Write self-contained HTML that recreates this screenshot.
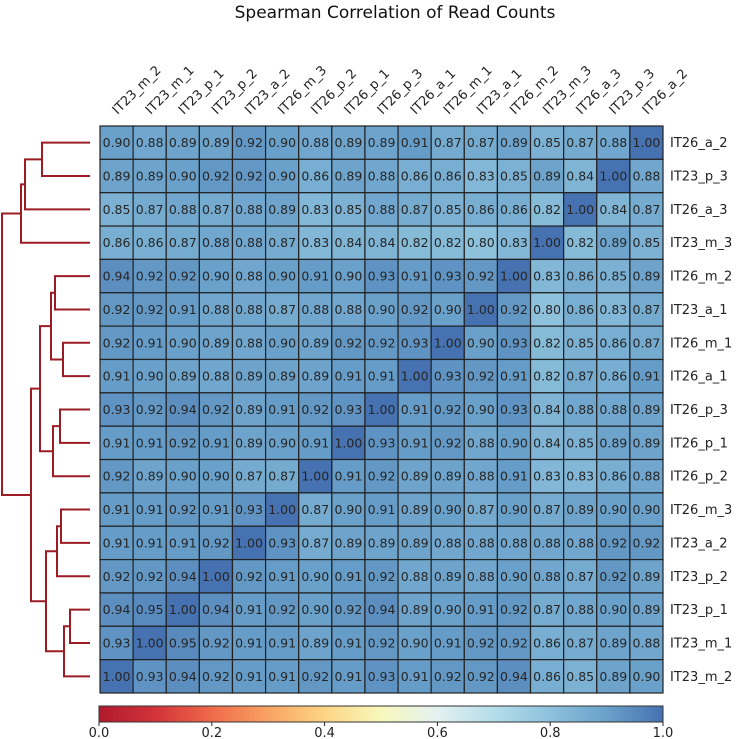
<!DOCTYPE html>
<html><head><meta charset="utf-8"><style>body{margin:0;background:#fff}svg{display:block;font-family:"DejaVu Sans","Liberation Sans",sans-serif}</style></head>
<body>
<svg id="c" width="737" height="739"></svg>
<script>
const rowLabels=["IT26_a_2","IT23_p_3","IT26_a_3","IT23_m_3","IT26_m_2","IT23_a_1","IT26_m_1","IT26_a_1","IT26_p_3","IT26_p_1","IT26_p_2","IT26_m_3","IT23_a_2","IT23_p_2","IT23_p_1","IT23_m_1","IT23_m_2"];
const colLabels=["IT23_m_2","IT23_m_1","IT23_p_1","IT23_p_2","IT23_a_2","IT26_m_3","IT26_p_2","IT26_p_1","IT26_p_3","IT26_a_1","IT26_m_1","IT23_a_1","IT26_m_2","IT23_m_3","IT26_a_3","IT23_p_3","IT26_a_2"];
const matrix=[
[.90,.88,.89,.89,.92,.90,.88,.89,.89,.91,.87,.87,.89,.85,.87,.88,1.00],
[.89,.89,.90,.92,.92,.90,.86,.89,.88,.86,.86,.83,.85,.89,.84,1.00,.88],
[.85,.87,.88,.87,.88,.89,.83,.85,.88,.87,.85,.86,.86,.82,1.00,.84,.87],
[.86,.86,.87,.88,.88,.87,.83,.84,.84,.82,.82,.80,.83,1.00,.82,.89,.85],
[.94,.92,.92,.90,.88,.90,.91,.90,.93,.91,.93,.92,1.00,.83,.86,.85,.89],
[.92,.92,.91,.88,.88,.87,.88,.88,.90,.92,.90,1.00,.92,.80,.86,.83,.87],
[.92,.91,.90,.89,.88,.90,.89,.92,.92,.93,1.00,.90,.93,.82,.85,.86,.87],
[.91,.90,.89,.88,.89,.89,.89,.91,.91,1.00,.93,.92,.91,.82,.87,.86,.91],
[.93,.92,.94,.92,.89,.91,.92,.93,1.00,.91,.92,.90,.93,.84,.88,.88,.89],
[.91,.91,.92,.91,.89,.90,.91,1.00,.93,.91,.92,.88,.90,.84,.85,.89,.89],
[.92,.89,.90,.90,.87,.87,1.00,.91,.92,.89,.89,.88,.91,.83,.83,.86,.88],
[.91,.91,.92,.91,.93,1.00,.87,.90,.91,.89,.90,.87,.90,.87,.89,.90,.90],
[.91,.91,.91,.92,1.00,.93,.87,.89,.89,.89,.88,.88,.88,.88,.88,.92,.92],
[.92,.92,.94,1.00,.92,.91,.90,.91,.92,.88,.89,.88,.90,.88,.87,.92,.89],
[.94,.95,1.00,.94,.91,.92,.90,.92,.94,.89,.90,.91,.92,.87,.88,.90,.89],
[.93,1.00,.95,.92,.91,.91,.89,.91,.92,.90,.91,.92,.92,.86,.87,.89,.88],
[1.00,.93,.94,.92,.91,.91,.92,.91,.93,.91,.92,.92,.94,.86,.85,.89,.90]];
const cbTicks=[0,0.2,0.4,0.6,0.8,1.0];
const merges=[[0,1,42],["n0",2,25],["n1",3,21],[4,5,55],[6,7,63],["n3","n4",51],[8,9,60],["n6",10,53],["n5","n7",40],[11,12,61],["n9",13,57],[14,15,70],["n11",16,64],["n10","n12",46],["n8","n13",31],["n2","n14",2]];
const stops=[[0,"#b01a2e"],[.1,"#d3333a"],[.2,"#ef6a4a"],[.3,"#f9a363"],[.4,"#fdd584"],[.5,"#f8f8bc"],[.6,"#e3f1f1"],[.7,"#b4dde9"],[.8,"#8dc1dc"],[.9,"#6aa1ca"],[1,"#4672b1"]];
function hx(h){return [1,3,5].map(i=>parseInt(h.substr(i,2),16));}
function cmap(v){v=Math.max(0,Math.min(1,v));for(let i=1;i<stops.length;i++){if(v<=stops[i][0]){const a=hx(stops[i-1][1]),b=hx(stops[i][1]),t=(v-stops[i-1][0])/(stops[i][0]-stops[i-1][0]);return "rgb("+a.map((x,k)=>Math.round(x+(b[k]-x)*t)).join(",")+")";}}return stops[stops.length-1][1];}
const svg=document.getElementById('c');const NS="http://www.w3.org/2000/svg";
function el(t,a,txt){const e=document.createElementNS(NS,t);for(const k in a)e.setAttribute(k,a[k]);if(txt!=null)e.textContent=txt;svg.appendChild(e);return e;}
const X0=100,Y0=126,W=563,H=567,n=rowLabels.length,cw=W/colLabels.length,ch=H/n;
const xc=i=>X0+(i+0.5)*cw, yc=i=>Y0+(i+0.5)*ch;
let t=el('text',{x:395,y:18,'text-anchor':'middle','font-size':17,fill:'#111'},"Spearman Correlation of Read Counts");


for(let r=0;r<n;r++)for(let c=0;c<colLabels.length;c++){
 const v=matrix[r][c];
 const rc=el('rect',{x:X0+c*cw,y:Y0+r*ch,width:cw,height:ch,fill:cmap(v),stroke:'#222','stroke-width':1.2});
 
 
 const tx=el('text',{x:xc(c),y:yc(r)+4.5,'text-anchor':'middle','font-size':12.5,fill:'#262626'},v.toFixed(2));
 
 
}
colLabels.forEach((l,i)=>{const e=el('text',{x:0,y:0,'font-size':13,fill:'#222',transform:`translate(${xc(i)+1},115) rotate(-45)`},l);
 
 });
rowLabels.forEach((l,i)=>{const e=el('text',{x:670,y:yc(i)+4.5,'font-size':13,fill:'#222'},l);
 
 });
const pos={};const LX=90;
merges.forEach((m,k)=>{const g=c=>typeof c==="number"?{x:LX,y:yc(c)}:pos[c];const a=g(m[0]),b=g(m[1]),x=m[2];
 const p=el('path',{d:`M${a.x},${a.y}H${x}V${b.y}H${b.x}`,fill:'none',stroke:'#9b1c24','stroke-width':2});
 
 
 pos["n"+k]={x:x,y:(a.y+b.y)/2};});
const CX=99,CW=564,CY=706,CH=16;
const defs=el('defs',{});const lg=document.createElementNS(NS,'linearGradient');lg.setAttribute('id','g');defs.appendChild(lg);
stops.forEach(s=>{const st=document.createElementNS(NS,'stop');st.setAttribute('offset',s[0]);st.setAttribute('stop-color',s[1]);lg.appendChild(st);});
const cb=el('rect',{x:CX,y:CY,width:CW,height:CH,fill:'url(#g)',stroke:'#333','stroke-width':1});


cbTicks.forEach(v=>{const x=CX+v*CW;el('line',{x1:x,x2:x,y1:CY+CH,y2:CY+CH+4,stroke:'#222'});
 const e=el('text',{x:x,y:737,'text-anchor':'middle','font-size':13,fill:'#222'},v.toFixed(1));
 
 });
</script>
</body></html>
